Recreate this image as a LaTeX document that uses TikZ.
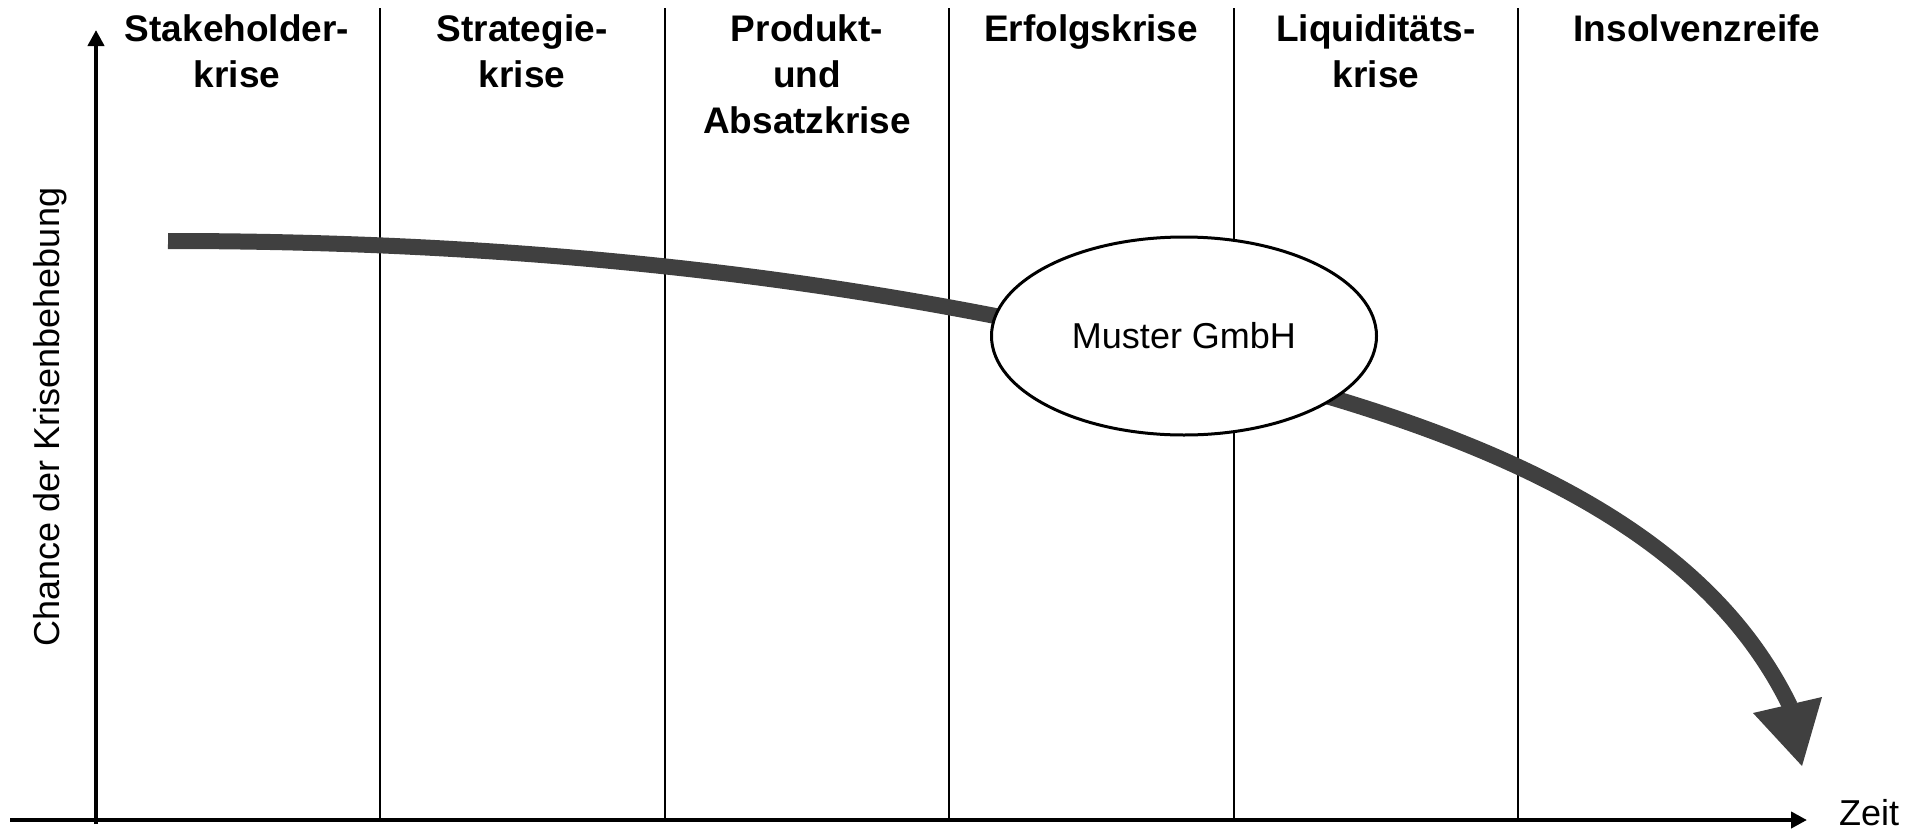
\documentclass[tikz,border=0pt]{standalone}
\usepackage{fontspec}
\setmainfont{Liberation Sans}
\usetikzlibrary{arrows.meta,shapes.geometric}
\definecolor{curvegray}{HTML}{404040}
\begin{document}
\begin{tikzpicture}[x=1pt,y=-1pt,
  sep/.style={line width=2pt, black},
  axis/.style={line width=4pt, -{Triangle[length=16pt,width=16pt]}},
  head/.style={font=\fontsize{37}{46}\selectfont\bfseries, align=center, anchor=north, inner sep=0pt},
  lbl/.style={font=\fontsize{36}{43}\selectfont, inner sep=0pt},
  crv/.style={line width=16pt, draw=curvegray, line cap=butt},
  blob/.style={draw, ellipse, line width=3pt, fill=white, minimum width=385pt, minimum height=198pt, inner sep=0pt, font=\fontsize{36}{43}\selectfont}]
\useasboundingbox (0,0) rectangle (1920,830);
% separators
\foreach \x in {380,665,949,1234,1518} \draw[sep] (\x,8) -- (\x,820);
% axes
\coordinate (yb) at (96,824);
\coordinate (yt) at (96,30);
\coordinate (xl) at (10,820);
\coordinate (xr) at (1807,820);
\draw[axis] (yb) -- (yt);
\draw[axis] (xl) -- (xr);
% headings
\node[head] (h1) at (237,14) {Stakeholder-\\krise};
\node[head] (h2) at (522,14) {Strategie-\\krise};
\node[head] (h3) at (807,14) {Produkt-\\und\\Absatzkrise};
\node[head] (h4) at (1091,14) {Erfolgskrise};
\node[head] (h5) at (1376,14) {Liquiditäts-\\krise};
\node[head] (h6) at (1697,14) {Insolvenzreife};
% curve
\coordinate (c0) at (168,241);
\coordinate (c1) at (1333,398);
\coordinate (c2) at (1790,706);
\draw[crv] (c0) .. controls (668,241) and (1033,311) .. (c1)
                .. controls (1583,473) and (1724,571) .. (c2);
\fill[curvegray] (1753,713) -- (1822,697) -- (1802,766) -- cycle;
% ellipse
\node[blob] (m) at (1184,336) {Muster GmbH};
% labels
\node[lbl] (zeit) at (1869,813) {Zeit};
\node[lbl, rotate=90] (ylab) at (50,417) {Chance der Krisenbehebung};
\end{tikzpicture}
\end{document}
